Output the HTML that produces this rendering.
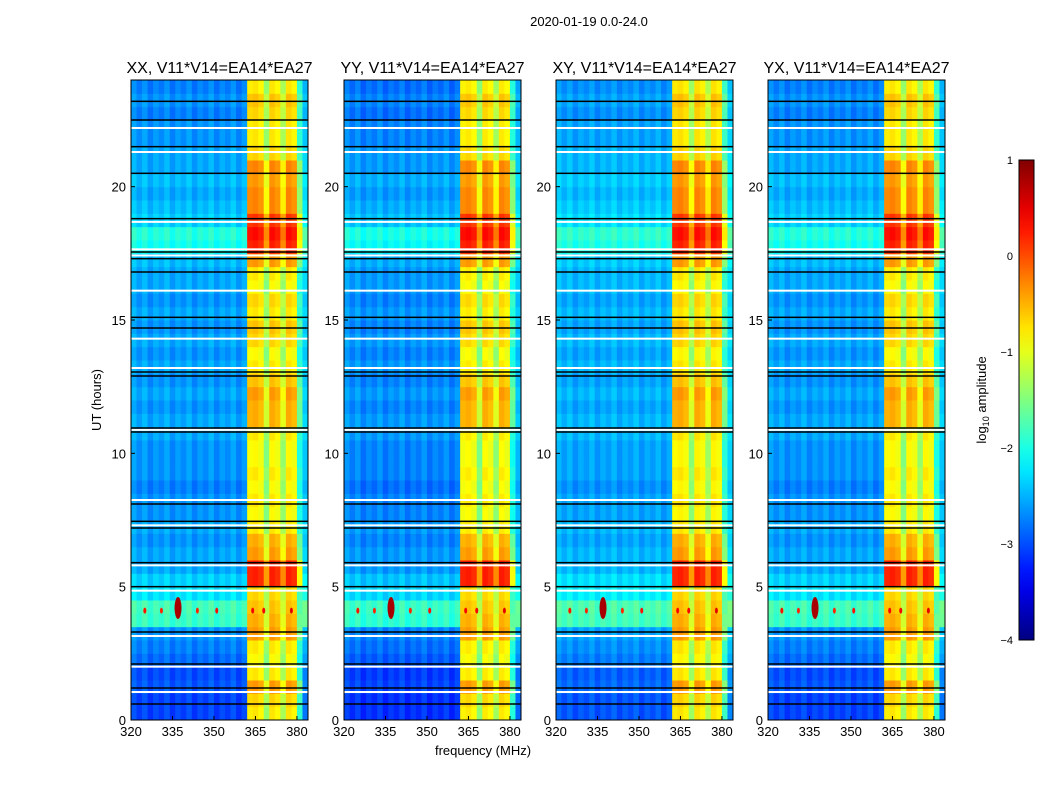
<!DOCTYPE html>
<html><head><meta charset="utf-8">
<style>
body{margin:0;background:#fff;font-family:"Liberation Sans",sans-serif;}
svg text{font-family:"Liberation Sans",sans-serif;fill:#000;}
</style></head>
<body>
<svg id="chart" width="1050" height="800" xmlns="http://www.w3.org/2000/svg">
<rect width="1050" height="800" fill="#fff"/>
<text x="589" y="26" font-size="13" text-anchor="middle">2020-01-19 0.0-24.0</text>
<text transform="translate(101,400) rotate(-90)" font-size="13" text-anchor="middle">UT (hours)</text>
<text x="483" y="755" font-size="13" text-anchor="middle">frequency (MHz)</text>
<text transform="translate(986,400) rotate(-90)" font-size="13" text-anchor="middle">log<tspan font-size="9" dy="3">10</tspan><tspan dy="-3"> amplitude</tspan></text>
</svg>
<script>
// ---- data ----
const panelTitles = ["XX, V11*V14=EA14*EA27","YY, V11*V14=EA14*EA27","XY, V11*V14=EA14*EA27","YX, V11*V14=EA14*EA27"];
const panelLeft = [131,344,556,768];
const freqBins = [320,322,324,326,328,330,332,334,336,338,340,342,344,346,348,350,352,354,356,358,360,362,364,366,368,370,372,374,376,378,380,382];
const freqBase = [-2.55,-2.7,-2.55,-2.75,-2.6,-2.7,-2.55,-2.75,-2.6,-2.7,-2.55,-2.75,-2.6,-2.7,-2.55,-2.75,-2.6,-2.7,-2.55,-2.75,-2.6,-0.9,-0.85,-0.95,-1.5,-0.85,-0.95,-1.4,-0.85,-0.95,-2.0,-2.4];
const bandBoost = [0.1,0.2,0.5,0.1,0.0,0.1,0.5,0.4,0.3,0.2,1.1,1.1,0.5,0.4,0.1,0.0,0.1,0.0,0.1,0.0,0.0,0.1,0.4,0.4,0.5,0.3,0.1,0.0,0.2,0.3,0.1,0.2,0.0,0.1,0.5,1.1,1.2,1.0,0.6,0.6,0.5,0.6,0.2,0.1,0.1,0.2,0.3,0.1];
const bgBoost = [-0.4,-0.4,-0.3,-0.35,-0.2,-0.1,0.0,0.8,0.85,0.4,0.3,0.1,0.1,0.0,0.1,0.0,0.0,-0.1,0.0,0.0,0.0,0.1,0.1,0.0,0.1,0.0,0.1,0.0,0.1,0.0,0.1,0.0,0.1,0.1,0.2,0.6,0.7,0.3,0.2,0.1,0.2,0.1,0.1,0.0,0.0,-0.1,0.0,-0.1];
const panelGain = [1.0,1.03,0.97,1.0];
const blackLines = [0.6,1.2,2.1,3.3,5.0,5.9,7.2,7.45,8.1,10.8,10.95,12.9,13.05,14.7,15.1,16.8,17.3,17.55,18.8,20.5,21.5,22.5,23.2];
const whiteLines = [1.05,2.0,3.15,4.85,5.8,7.3,8.25,10.88,13.2,14.3,16.1,17.42,17.65,18.68,21.3,22.2];
const rfiSpots = [[337,4.2,0.8],[325,4.1,0.3],[331,4.1,0.2],[344,4.1,0.2],[351,4.1,0.3],[364,4.1,0.4],[368,4.1,0.4],[378,4.1,0.5]];
const xTicks = [320,335,350,365,380];
const yTicks = [0,5,10,15,20];
const cbTicks = [1,0,-1,-2,-3,-4];

// ---- scales ----
const W=177, TOP=80, BOT=720;
const xs = (f,p)=> panelLeft[p] + (f-320)/64*W;
const ys = t => BOT - t/24*(BOT-TOP);
function jet(v){
  let t=Math.max(0,Math.min(1,(v+4)/5));
  const r=Math.max(0,Math.min(1,1.5-Math.abs(4*t-3)));
  const g=Math.max(0,Math.min(1,1.5-Math.abs(4*t-2)));
  const b=Math.max(0,Math.min(1,1.5-Math.abs(4*t-1)));
  return `rgb(${Math.round(r*255)},${Math.round(g*255)},${Math.round(b*255)})`;
}
const NS="http://www.w3.org/2000/svg";
const svg=document.getElementById('chart');
function mk(tag,attrs,parent){const e=document.createElementNS(NS,tag);for(const k in attrs)e.setAttribute(k,attrs[k]);(parent||svg).appendChild(e);return e;}

panelTitles.forEach((title,p)=>{
  const g=mk('g',{});
  
  
  const x0=panelLeft[p];
  freqBins.forEach((f,i)=>{
    const inBand = freqBase[i] > -2.3;
    bandBoost.forEach((bb,r)=>{
      const v=(freqBase[i] + (inBand?bb:bgBoost[r]))*panelGain[p];
      const c=mk('rect',{x:xs(f,p),y:ys((r+1)*0.5),width:W/32+0.5,height:(BOT-TOP)/48+0.5,fill:jet(v)},g);
      
      
    });
  });
  rfiSpots.forEach(s=>{
    const big=s[2]>0.6;
    const e=mk('ellipse',{cx:xs(s[0],p),cy:ys(s[1]),rx:big?3.5:1.5,ry:big?11:3,fill:jet(s[2])},g);
    
    
  });
  whiteLines.forEach(t=>{
    const l=mk('rect',{x:x0,y:ys(t)-1,width:W,height:2,fill:'#fff'},g);
    
    
  });
  blackLines.forEach(t=>{
    const l=mk('rect',{x:x0,y:ys(t)-0.75,width:W,height:1.5,fill:'#000'},g);
    
    
  });
  const fr=mk('rect',{x:x0,y:TOP,width:W,height:BOT-TOP,fill:'none',stroke:'#000','stroke-width':1},g);
  
  
  const tt=mk('text',{x:x0+W/2,y:73,'font-size':16,'text-anchor':'middle'},g);
  tt.textContent=title;
  
  
  xTicks.forEach(f=>{
    const X=xs(f,p);
    mk('line',{x1:X,x2:X,y1:BOT,y2:BOT-4,stroke:'#000'},g);
    const t=mk('text',{x:X,y:BOT+16,'font-size':13,'text-anchor':'middle'},g);
    t.textContent=f;
    
    
  });
  yTicks.forEach(v=>{
    const Y=ys(v);
    mk('line',{x1:x0,x2:x0+4,y1:Y,y2:Y,stroke:'#000'},g);
    const t=mk('text',{x:x0-5,y:Y+5,'font-size':13,'text-anchor':'end'},g);
    t.textContent=v;
    
    
  });
});

const cb=mk('g',{});


const CBX=1019,CBW=15,CBT=160,CBB=640;
const defs=mk('defs',{});
const grad=mk('linearGradient',{id:'jetg',x1:0,y1:1,x2:0,y2:0},defs);
for(let i=0;i<=20;i++){mk('stop',{offset:i/20,'stop-color':jet(-4+5*i/20)},grad);}
mk('rect',{x:CBX,y:CBT,width:CBW,height:CBB-CBT,fill:'url(#jetg)',stroke:'#000'},cb);
cbTicks.forEach(v=>{
  const Y=CBB-(v+4)/5*(CBB-CBT);
  const t=mk('text',{x:1013,y:Y+4,'font-size':11,'text-anchor':'end'},cb);
  t.textContent=v<0?'\u2212'+(-v):v;
  
  
});
</script>
</body></html>
